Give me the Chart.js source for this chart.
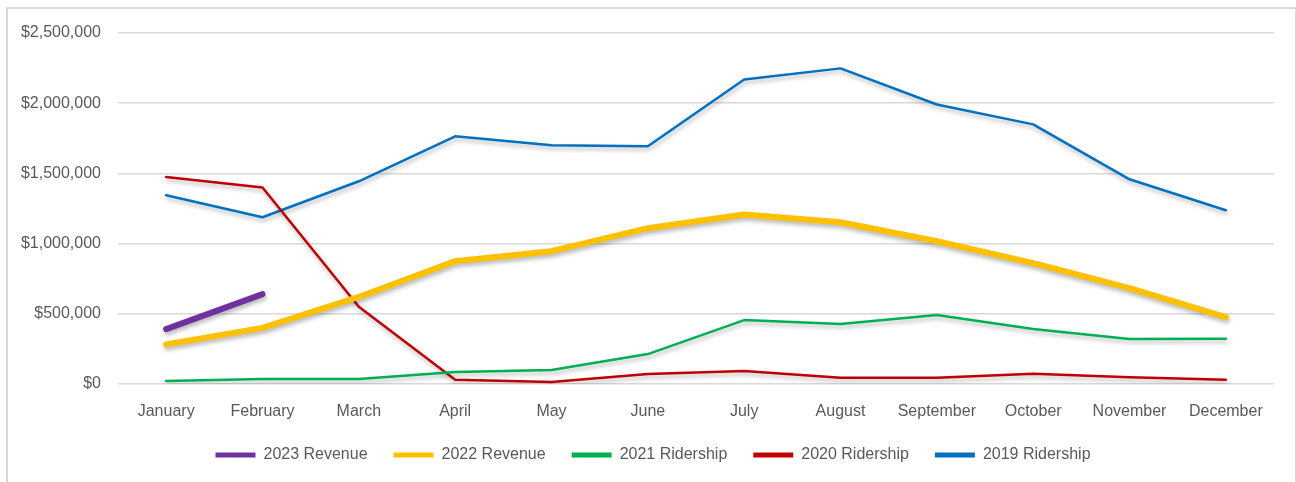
<!DOCTYPE html>
<html>
<head>
<meta charset="utf-8">
<script src="https://cdn.jsdelivr.net/npm/chart.js@4/dist/chart.umd.min.js"></script>
<style>
  body { margin: 0; background: #fff; }
  #frame { position: absolute; left: 6px; top: 7px; width: 1287px; height: 490px; border: 2px solid #d9d9d9; }
  #wrap { position: absolute; left: 0; top: 0; width: 1296px; height: 482px; }
</style>
</head>
<body>
<div id="frame"></div>
<div id="wrap"><canvas id="lineChart"></canvas></div>
<script>
// Month labels
const months = ['January', 'February', 'March', 'April', 'May', 'June',
    'July', 'August', 'September', 'October', 'November', 'December'];

// Series values
const revenue2023 = [391000, 640000];
const revenue2022 = [282000, 400000, 620000, 875000, 946000, 1110000, 1207000, 1152000, 1017000, 861000, 683000, 477000];
const ridership2021 = [21000, 36000, 36000, 85000, 100000, 213000, 455000, 427000, 491000, 391000, 320000, 322000];
const ridership2020 = [1474000, 1399000, 550000, 30000, 15000, 71000, 92000, 45000, 45000, 73000, 48000, 31000];
const ridership2019 = [1344000, 1188000, 1444000, 1764000, 1700000, 1693000, 2169000, 2248000, 1991000, 1849000, 1458000, 1238000];

const tickValues = [0, 500000, 1000000, 1500000, 2000000, 2500000];

const textColor = '#595959';
const fontFamily = '"Liberation Sans", Arial, sans-serif';

// Soft drop shadow under the lines, like the Excel original
const lineShadow = {
    id: 'lineShadow',
    beforeDatasetsDraw(chart) {
        const ctx = chart.ctx;
        ctx.save();
        ctx.shadowColor = 'rgba(0,0,0,0.28)';
        ctx.shadowBlur = 4;
        ctx.shadowOffsetX = 1;
        ctx.shadowOffsetY = 3;
    },
    afterDatasetsDraw(chart) {
        chart.ctx.restore();
    }
};

// Legend sits a bit right of the canvas centre in the original
const legendNudge = {
    id: 'legendNudge',
    afterLayout(chart) {
        chart.legend.left += 16;
        chart.legend.right += 16;
    }
};

function series(label, data, color, width) {
    return {
        label: label,
        data: data,
        borderColor: color,
        backgroundColor: color,
        borderWidth: width,
        pointRadius: 0,
        pointHoverRadius: 0,
        tension: 0,
        fill: false,
        borderCapStyle: 'round',
        borderJoinStyle: 'round'
    };
}

const ctx = document.getElementById('lineChart').getContext('2d');
new Chart(ctx, {
    type: 'line',
    data: {
        labels: months,
        datasets: [
            series('2023 Revenue', revenue2023, '#7030A0', 6),
            series('2022 Revenue', revenue2022, '#FFC000', 6),
            series('2021 Ridership', ridership2021, '#00B050', 2.5),
            series('2020 Ridership', ridership2020, '#C00000', 2.5),
            series('2019 Ridership', ridership2019, '#0070C0', 2.5)
        ]
    },
    options: {
        responsive: true,
        maintainAspectRatio: false,
        animation: false,
        layout: { padding: { top: 33, right: 22, bottom: 9, left: 0 } },
        plugins: {
            tooltip: { enabled: false },
            legend: {
                position: 'bottom',
                labels: {
                    boxWidth: 40,
                    boxHeight: 5,
                    padding: 26,
                    color: textColor,
                    font: { family: fontFamily, size: 16 },
                    generateLabels(chart) {
                        return chart.data.datasets.map((ds, i) => ({
                            text: ds.label,
                            fillStyle: ds.borderColor,
                            strokeStyle: ds.borderColor,
                            lineWidth: 0,
                            fontColor: textColor,
                            datasetIndex: i
                        }));
                    }
                }
            }
        },
        scales: {
            x: {
                offset: true,
                grid: { display: false },
                border: { display: false },
                ticks: { color: textColor, font: { family: fontFamily, size: 16 }, padding: 10, maxRotation: 0 },
                afterFit(scale) { scale.height = 37; }
            },
            y: {
                min: 0,
                max: 2500000,
                afterBuildTicks(scale) { scale.ticks = tickValues.map(v => ({ value: v })); },
                grid: { color: '#d9d9d9', lineWidth: 1.6, drawTicks: false },
                border: { display: false },
                ticks: {
                    color: textColor,
                    font: { family: fontFamily, size: 16 },
                    padding: 17,
                    callback: v => '$' + v.toLocaleString('en-US')
                },
                afterFit(scale) { scale.width = 118; }
            }
        }
    },
    plugins: [lineShadow, legendNudge]
});
</script>
</body>
</html>
